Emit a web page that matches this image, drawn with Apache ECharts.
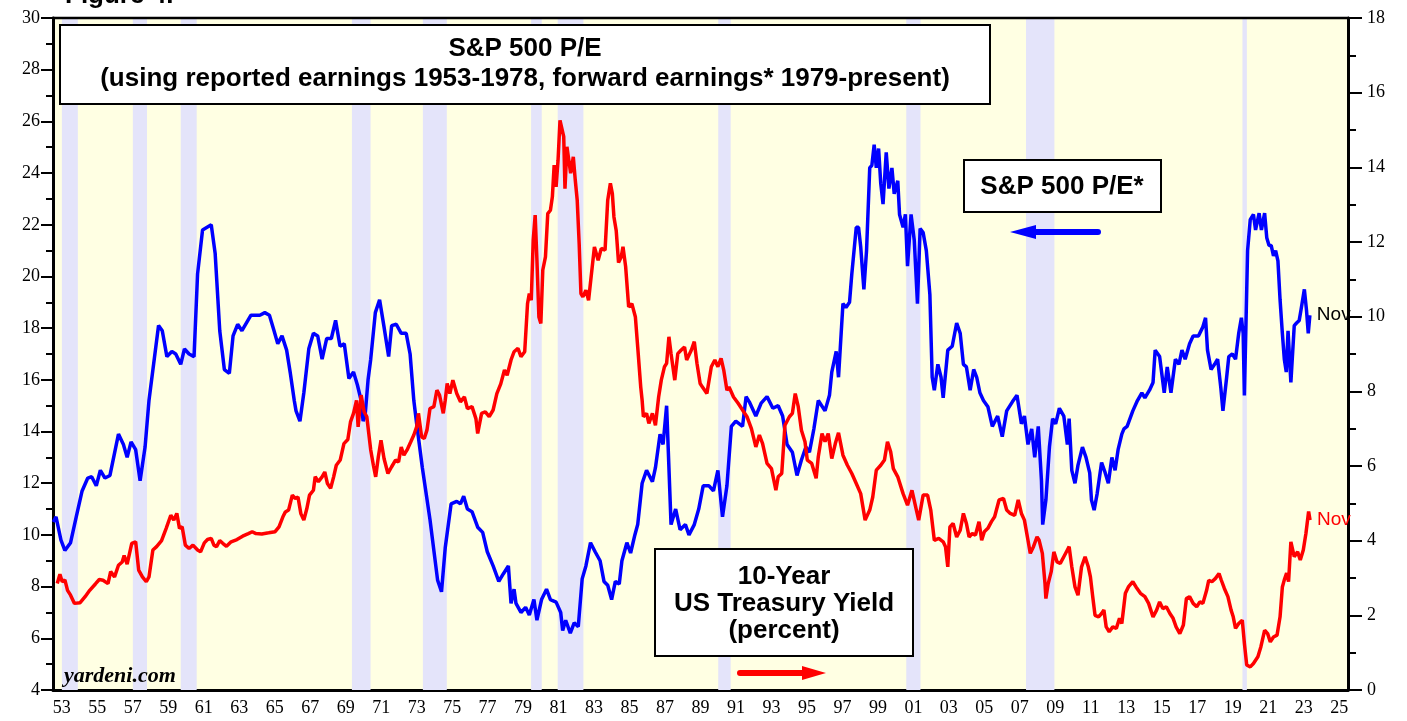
<!DOCTYPE html>
<html>
<head>
<meta charset="utf-8">
<script src="https://cdn.jsdelivr.net/npm/echarts/dist/echarts.min.js"></script>
<style>
  html, body { margin: 0; padding: 0; background: #fff; }
  #chart { width: 1407px; height: 721px; }
</style>
</head>
<body>
<div id="chart"></div>
<script>
// year ticks along the bottom (labels shown every other year)
const yearLabels = []
for (let y = 1953; y <= 2025; y++) yearLabels.push(String(y % 100).padStart(2, '0'))

// recession periods [start, end] in decimal years
const recessions = [
  [1953.5, 1954.4], [1957.5, 1958.3], [1960.2, 1961.1], [1969.85, 1970.9],
  [1973.85, 1975.2], [1979.95, 1980.55], [1981.45, 1982.9], [1990.5, 1991.2],
  [2001.1, 2001.9], [2007.85, 2009.45], [2020.05, 2020.3],
]

// S&P 500 P/E (left axis) [year, value]
const peSeries = [
  [1953.02,10.5],[1953.17,10.7],[1953.45,9.8],[1953.67,9.4],[1953.99,9.7],[1954.31,10.7],[1954.64,11.7],[1954.96,12.2],
  [1955.18,12.25],[1955.44,11.9],[1955.67,12.5],[1955.93,12.2],[1956.21,12.3],[1956.69,13.9],[1956.97,13.5],[1957.18,13.0],
  [1957.40,13.6],[1957.66,13.3],[1957.91,12.1],[1958.19,13.4],[1958.41,15.2],[1958.95,18.1],[1959.16,17.9],[1959.42,16.9],
  [1959.70,17.1],[1959.92,17.0],[1960.20,16.6],[1960.41,17.2],[1960.67,17.0],[1960.95,16.9],[1961.15,20.1],[1961.43,21.8],
  [1961.92,22.0],[1962.14,20.9],[1962.40,17.9],[1962.66,16.4],[1962.94,16.25],[1963.15,17.7],[1963.41,18.15],[1963.65,17.9],
  [1964.16,18.5],[1964.66,18.5],[1964.94,18.6],[1965.20,18.5],[1965.46,17.9],[1965.67,17.4],[1965.91,17.7],[1966.17,17.15],
  [1966.38,16.25],[1966.60,15.2],[1966.70,14.8],[1966.92,14.4],[1967.14,15.5],[1967.42,17.2],[1967.68,17.8],[1967.92,17.7],
  [1968.17,16.8],[1968.43,17.6],[1968.69,17.6],[1968.93,18.3],[1969.18,17.3],[1969.42,17.4],[1969.68,16.05],[1969.94,16.3],
  [1970.16,15.8],[1970.37,15.2],[1970.48,14.4],[1970.59,14.6],[1970.76,16.0],[1970.91,16.8],[1971.17,18.6],[1971.41,19.1],
  [1971.66,18.05],[1971.92,16.9],[1972.09,18.1],[1972.35,18.15],[1972.63,17.8],[1972.91,17.8],[1973.13,17.0],[1973.34,15.2],
  [1973.50,14.3],[1973.82,12.6],[1974.25,10.6],[1974.68,8.25],[1974.90,7.8],[1975.11,9.5],[1975.44,11.2],[1975.76,11.3],
  [1975.97,11.2],[1976.15,11.5],[1976.36,11.0],[1976.62,10.9],[1976.94,10.3],[1977.22,10.1],[1977.48,9.35],[1977.81,8.8],
  [1978.13,8.2],[1978.39,8.5],[1978.67,8.8],[1978.82,7.35],[1978.99,7.9],[1979.10,7.35],[1979.38,7.0],[1979.64,7.2],
  [1979.85,6.9],[1980.11,7.5],[1980.28,6.7],[1980.54,7.5],[1980.82,7.9],[1981.04,7.5],[1981.36,7.4],[1981.62,7.0],
  [1981.73,6.3],[1981.90,6.7],[1982.16,6.2],[1982.38,6.6],[1982.61,6.45],[1982.83,8.3],[1983.04,8.8],[1983.30,9.7],
  [1983.56,9.35],[1983.84,9.0],[1984.06,8.2],[1984.27,8.05],[1984.49,7.5],[1984.70,8.2],[1984.92,8.1],[1985.07,9.0],
  [1985.35,9.7],[1985.56,9.3],[1985.80,10.0],[1985.96,10.4],[1986.21,12.0],[1986.46,12.5],[1986.79,12.06],[1986.96,12.6],
  [1987.22,13.9],[1987.39,13.5],[1987.59,15.0],[1987.84,10.4],[1988.10,11.0],[1988.35,10.2],[1988.65,10.4],[1988.85,10.0],
  [1989.15,10.4],[1989.40,11.0],[1989.65,11.9],[1989.98,11.9],[1990.23,11.7],[1990.48,12.5],[1990.74,10.7],[1990.99,11.9],
  [1991.24,14.2],[1991.49,14.4],[1991.87,14.2],[1992.07,15.35],[1992.25,15.15],[1992.62,14.6],[1992.92,15.1],[1993.25,15.35],
  [1993.58,14.9],[1993.88,15.0],[1994.13,14.6],[1994.38,13.5],[1994.68,13.2],[1994.94,12.3],[1995.19,12.9],[1995.44,13.4],
  [1995.64,13.2],[1995.89,14.1],[1996.14,15.2],[1996.52,14.8],[1996.77,15.4],[1996.90,16.3],[1997.15,17.1],[1997.28,16.1],
  [1997.53,18.95],[1997.70,18.8],[1997.90,19.0],[1998.03,20.1],[1998.28,21.9],[1998.41,21.9],[1998.53,21.15],[1998.71,19.5],
  [1998.86,21.0],[1999.04,24.2],[1999.16,24.3],[1999.29,25.1],[1999.41,24.2],[1999.54,24.95],[1999.66,23.6],[1999.79,22.8],
  [1999.97,24.8],[2000.12,23.4],[2000.29,24.2],[2000.42,23.2],[2000.62,23.7],[2000.72,22.4],[2000.92,21.9],[2001.05,22.4],
  [2001.17,20.4],[2001.37,22.4],[2001.55,21.4],[2001.73,18.95],[2001.88,21.85],[2002.05,21.7],[2002.23,21.0],[2002.43,19.3],
  [2002.56,16.1],[2002.68,15.6],[2002.88,16.6],[2003.06,16.1],[2003.18,15.3],[2003.44,17.15],[2003.69,17.3],[2003.94,18.2],
  [2004.14,17.8],[2004.32,16.6],[2004.49,16.5],[2004.70,15.6],[2004.90,16.4],[2005.07,16.1],[2005.25,15.5],[2005.45,15.2],
  [2005.70,14.96],[2005.95,14.2],[2006.25,14.6],[2006.51,13.8],[2006.76,14.8],[2007.08,15.15],[2007.34,15.4],[2007.59,14.3],
  [2007.76,14.6],[2007.96,13.5],[2008.17,14.1],[2008.34,13.0],[2008.54,14.2],[2008.72,12.1],[2008.79,10.4],[2008.97,11.35],
  [2009.17,13.4],[2009.35,14.5],[2009.52,14.3],[2009.73,14.9],[2009.98,14.6],[2010.18,13.5],[2010.28,14.5],[2010.43,12.5],
  [2010.61,12.0],[2010.78,12.7],[2011.03,13.4],[2011.23,13.0],[2011.44,12.4],[2011.54,11.35],[2011.69,10.96],[2011.86,11.6],
  [2012.11,12.8],[2012.29,12.45],[2012.49,12.0],[2012.69,13.0],[2012.87,12.5],[2013.04,13.3],[2013.25,13.9],[2013.37,14.1],
  [2013.55,14.2],[2013.87,14.8],[2014.13,15.2],[2014.38,15.5],[2014.55,15.3],[2014.81,15.6],[2015.01,15.9],[2015.13,17.15],
  [2015.38,16.9],[2015.64,15.5],[2015.81,16.5],[2016.02,15.5],[2016.27,16.8],[2016.47,16.6],[2016.64,17.15],[2016.82,16.8],
  [2017.07,17.4],[2017.27,17.7],[2017.57,17.7],[2017.82,18.05],[2017.97,18.4],[2018.08,17.15],[2018.28,16.4],[2018.48,16.6],
  [2018.65,16.8],[2018.83,15.7],[2018.95,14.8],[2019.16,16.1],[2019.28,16.9],[2019.48,17.0],[2019.66,16.8],[2019.84,17.8],
  [2019.99,18.4],[2020.09,17.8],[2020.16,15.4],[2020.34,21.0],[2020.49,22.2],[2020.67,22.4],[2020.79,21.8],[2020.99,22.45],
  [2021.12,21.8],[2021.30,22.45],[2021.42,21.5],[2021.55,21.2],[2021.67,21.2],[2021.80,20.8],[2021.92,21.0],[2022.05,20.6],
  [2022.17,19.1],[2022.30,17.8],[2022.41,16.8],[2022.52,16.3],[2022.62,17.9],[2022.78,15.9],[2022.97,18.1],[2023.10,18.2],
  [2023.25,18.3],[2023.35,18.7],[2023.54,19.5],[2023.66,18.7],[2023.76,17.8],[2023.85,18.5],
]

// 10-year US Treasury yield, percent (right axis) [year, value]
const yieldSeries = [
  [1953.24,2.85],[1953.39,3.1],[1953.52,2.9],[1953.67,2.95],[1953.82,2.67],[1953.99,2.54],[1954.21,2.32],[1954.53,2.34],
  [1954.81,2.5],[1955.07,2.67],[1955.39,2.84],[1955.61,2.96],[1955.82,2.94],[1956.10,2.85],[1956.25,3.17],[1956.47,3.03],
  [1956.69,3.34],[1956.90,3.43],[1957.01,3.6],[1957.18,3.37],[1957.44,3.93],[1957.66,3.97],[1957.83,3.21],[1958.04,3.03],
  [1958.26,2.9],[1958.41,3.03],[1958.63,3.75],[1958.84,3.84],[1959.12,4.0],[1959.38,4.33],[1959.64,4.68],[1959.81,4.55],
  [1959.98,4.73],[1960.13,4.33],[1960.28,4.37],[1960.46,3.88],[1960.67,3.79],[1960.89,3.88],[1961.15,3.75],[1961.32,3.7],
  [1961.53,3.94],[1961.71,4.03],[1961.92,4.06],[1962.07,3.88],[1962.22,3.84],[1962.40,4.0],[1962.57,3.93],[1962.78,3.85],
  [1963.04,3.97],[1963.37,4.03],[1963.69,4.12],[1964.01,4.19],[1964.23,4.24],[1964.44,4.19],[1964.77,4.18],[1965.16,4.21],
  [1965.52,4.24],[1965.74,4.37],[1965.96,4.64],[1966.10,4.77],[1966.28,4.82],[1966.49,5.22],[1966.66,5.13],[1966.81,5.17],
  [1966.97,4.73],[1967.14,4.55],[1967.31,4.86],[1967.46,5.22],[1967.68,5.35],[1967.78,5.71],[1967.96,5.58],[1968.17,5.71],
  [1968.32,5.84],[1968.47,5.53],[1968.65,5.4],[1968.82,5.71],[1968.97,6.02],[1969.19,6.16],[1969.40,6.6],[1969.62,6.71],
  [1969.77,7.18],[1969.94,7.41],[1970.11,7.76],[1970.20,7.05],[1970.37,7.9],[1970.54,7.45],[1970.69,7.32],[1970.91,6.43],
  [1971.06,6.02],[1971.19,5.71],[1971.34,6.25],[1971.49,6.69],[1971.66,6.2],[1971.88,5.8],[1972.09,5.98],[1972.31,6.16],
  [1972.48,6.11],[1972.63,6.51],[1972.78,6.29],[1972.96,6.43],[1973.17,6.65],[1973.34,6.83],[1973.50,7.05],[1973.60,7.41],
  [1973.78,6.78],[1973.93,6.74],[1974.08,6.96],[1974.25,7.54],[1974.47,7.59],[1974.64,8.03],[1974.79,7.9],[1975.00,7.41],
  [1975.11,7.76],[1975.22,8.21],[1975.37,7.94],[1975.54,8.3],[1975.76,7.94],[1975.97,7.72],[1976.19,7.85],[1976.36,7.54],
  [1976.62,7.59],[1976.84,7.27],[1976.94,6.87],[1977.16,7.41],[1977.37,7.45],[1977.59,7.32],[1977.81,7.5],[1978.02,7.94],
  [1978.24,8.2],[1978.45,8.57],[1978.60,8.43],[1978.82,8.84],[1978.99,9.06],[1979.21,9.15],[1979.38,8.93],[1979.59,9.06],
  [1979.75,10.35],[1979.85,10.62],[1979.96,10.44],[1980.07,12.05],[1980.18,12.72],[1980.28,11.51],[1980.39,9.99],[1980.50,9.82],
  [1980.61,11.25],[1980.76,11.6],[1980.89,12.76],[1981.04,12.85],[1981.15,13.21],[1981.25,14.06],[1981.36,13.48],[1981.47,14.19],
  [1981.58,15.26],[1981.68,15.31],[1981.79,14.82],[1981.86,13.43],[1981.97,14.55],[1982.05,14.59],[1982.18,13.84],[1982.33,14.28],
  [1982.44,13.66],[1982.55,13.12],[1982.66,11.96],[1982.76,10.62],[1982.87,10.53],[1983.04,10.71],[1983.19,10.44],[1983.30,10.4],
  [1983.52,11.87],[1983.73,11.51],[1983.91,11.83],[1984.12,11.78],[1984.27,13.12],[1984.42,13.57],[1984.53,13.3],[1984.62,12.67],
  [1984.75,12.3],[1984.88,11.45],[1985.03,11.6],[1985.13,11.87],[1985.28,11.34],[1985.45,10.26],[1985.63,10.35],[1985.83,9.99],
  [1985.96,9.19],[1986.13,8.12],[1986.21,7.76],[1986.28,7.32],[1986.46,7.41],[1986.59,7.14],[1986.79,7.41],[1986.96,7.09],
  [1987.14,7.85],[1987.29,8.3],[1987.47,8.66],[1987.59,8.75],[1987.72,9.46],[1987.84,9.01],[1988.05,8.3],[1988.22,9.01],
  [1988.40,9.1],[1988.60,9.19],[1988.72,8.84],[1988.98,9.1],[1989.15,9.33],[1989.30,8.75],[1989.48,8.21],[1989.60,8.12],
  [1989.86,7.94],[1990.11,8.66],[1990.31,8.84],[1990.48,8.66],[1990.66,8.88],[1990.81,8.57],[1990.99,8.03],[1991.11,8.12],
  [1991.36,7.85],[1991.62,7.68],[1991.87,7.5],[1992.12,7.32],[1992.37,7.0],[1992.62,6.51],[1992.82,6.83],[1993.00,6.6],
  [1993.25,6.07],[1993.50,5.93],[1993.75,5.35],[1993.88,5.71],[1994.08,5.8],[1994.26,7.09],[1994.51,7.32],[1994.68,7.41],
  [1994.84,7.94],[1995.01,7.59],[1995.19,6.96],[1995.39,6.65],[1995.52,6.16],[1995.77,6.07],[1996.02,5.67],[1996.14,6.25],
  [1996.35,6.87],[1996.52,6.65],[1996.70,6.87],[1996.90,6.2],[1997.10,6.6],[1997.28,6.89],[1997.53,6.29],[1997.78,6.02],
  [1998.03,5.8],[1998.28,5.53],[1998.53,5.26],[1998.78,4.55],[1999.04,4.82],[1999.21,5.17],[1999.41,5.89],[1999.66,6.02],
  [1999.87,6.16],[2000.04,6.65],[2000.22,6.38],[2000.37,5.93],[2000.62,5.71],[2000.92,5.26],[2001.17,4.95],[2001.42,5.35],
  [2001.67,4.82],[2001.80,4.55],[2002.05,5.22],[2002.30,5.22],[2002.48,4.82],[2002.68,4.01],[2002.93,4.06],[2003.18,3.97],
  [2003.31,3.84],[2003.44,3.3],[2003.56,4.37],[2003.74,4.46],[2003.94,4.1],[2004.14,4.28],[2004.32,4.73],[2004.49,4.46],
  [2004.64,4.1],[2004.82,4.19],[2005.00,4.15],[2005.20,4.51],[2005.35,4.01],[2005.50,4.24],[2005.70,4.33],[2005.90,4.51],
  [2006.08,4.64],[2006.33,5.09],[2006.58,5.13],[2006.76,4.82],[2006.96,4.73],[2007.21,4.68],[2007.41,5.09],[2007.59,4.73],
  [2007.76,4.55],[2007.96,4.01],[2008.09,3.66],[2008.27,3.84],[2008.47,4.1],[2008.59,4.01],[2008.77,3.66],[2008.92,2.85],
  [2008.97,2.45],[2009.10,2.85],[2009.27,3.17],[2009.42,3.7],[2009.60,3.43],[2009.78,3.39],[2009.98,3.57],[2010.18,3.75],
  [2010.28,3.84],[2010.43,3.3],[2010.61,2.76],[2010.78,2.54],[2010.98,3.3],[2011.18,3.57],[2011.36,3.3],[2011.48,3.03],
  [2011.61,2.5],[2011.74,2.0],[2011.94,1.96],[2012.11,2.05],[2012.24,2.14],[2012.37,1.69],[2012.54,1.56],[2012.74,1.69],
  [2012.94,1.65],[2013.12,1.92],[2013.25,1.78],[2013.45,2.59],[2013.62,2.76],[2013.87,2.9],[2014.05,2.76],[2014.30,2.59],
  [2014.55,2.5],[2014.76,2.32],[2015.01,1.96],[2015.21,2.14],[2015.38,2.36],[2015.56,2.18],[2015.76,2.23],[2015.96,2.05],
  [2016.14,1.92],[2016.31,1.69],[2016.52,1.51],[2016.72,1.74],[2016.89,2.45],[2017.07,2.5],[2017.27,2.32],[2017.47,2.23],
  [2017.65,2.36],[2017.82,2.32],[2018.03,2.67],[2018.15,2.94],[2018.33,2.9],[2018.53,2.99],[2018.73,3.12],[2018.86,2.94],
  [2019.03,2.72],[2019.23,2.5],[2019.41,2.14],[2019.53,1.96],[2019.66,1.65],[2019.84,1.78],[2020.04,1.87],[2020.16,1.25],
  [2020.29,0.67],[2020.49,0.62],[2020.67,0.71],[2020.92,0.89],[2021.09,1.16],[2021.30,1.6],[2021.47,1.51],[2021.62,1.29],
  [2021.80,1.42],[2022.00,1.47],[2022.17,1.96],[2022.30,2.76],[2022.41,2.95],[2022.54,3.13],[2022.65,2.9],[2022.78,3.97],
  [2022.97,3.57],[2023.16,3.7],[2023.31,3.48],[2023.48,3.75],[2023.63,4.2],[2023.78,4.78],[2023.86,4.55],
]

const chart = echarts.init(document.getElementById('chart'))

const serifFont = '"Liberation Serif", "Times New Roman", serif'
const sansFont = '"Liberation Sans", Arial, sans-serif'
const boxFont = 'bold 26px ' + sansFont

const axisText = { color: '#000', fontFamily: serifFont, fontSize: 18 }

const option = {
  animation: false,
  grid: {
    left: 53, right: 59, top: 18, bottom: 31,
    show: true,
    backgroundColor: '#FFFFE3',
    borderColor: '#000',
    borderWidth: 2,
  },
  xAxis: [
    {
      type: 'category',
      data: yearLabels,
      boundaryGap: true,
      axisLine: { lineStyle: { color: '#000', width: 3 } },
      axisTick: { interval: 0, length: 8, lineStyle: { color: '#000', width: 2 } },
      axisLabel: { ...axisText, interval: 1, margin: 9 },
      splitLine: { show: false },
    },
    {
      type: 'value',
      min: 1953,
      max: 2026,
      show: false,
    },
  ],
  yAxis: [
    {
      type: 'value',
      position: 'left',
      min: 4, max: 30, interval: 2,
      axisLine: { show: true, lineStyle: { color: '#000', width: 3 } },
      axisTick: { show: true, length: 12, lineStyle: { color: '#000', width: 2 } },
      minorTick: { show: true, splitNumber: 2, length: 7, lineStyle: { color: '#000', width: 2 } },
      axisLabel: { ...axisText, margin: 13 },
      splitLine: { show: false },
    },
    {
      type: 'value',
      position: 'right',
      min: 0, max: 18, interval: 2,
      axisLine: { show: true, lineStyle: { color: '#000', width: 3 } },
      axisTick: { show: true, length: 14, lineStyle: { color: '#000', width: 2 } },
      minorTick: { show: true, splitNumber: 2, length: 8, lineStyle: { color: '#000', width: 2 } },
      axisLabel: { ...axisText, margin: 19 },
      splitLine: { show: false },
    },
  ],
  series: [
    {
      // recession shading
      type: 'line',
      xAxisIndex: 1,
      yAxisIndex: 0,
      data: [],
      z: 1,
      markArea: {
        silent: true,
        itemStyle: { color: '#E4E4FA' },
        data: recessions.map(([a, b]) => [{ xAxis: a }, { xAxis: b }]),
      },
    },
    {
      name: 'S&P 500 P/E',
      type: 'line',
      xAxisIndex: 1,
      yAxisIndex: 0,
      data: peSeries,
      showSymbol: false,
      z: 3,
      lineStyle: { color: '#0000FF', width: 3.5 },
      endLabel: { show: true, formatter: 'Nov', color: '#000', fontFamily: sansFont, fontSize: 19, distance: 7 },
    },
    {
      name: '10-Year US Treasury Yield',
      type: 'line',
      xAxisIndex: 1,
      yAxisIndex: 1,
      data: yieldSeries,
      showSymbol: false,
      z: 4,
      lineStyle: { color: '#FF0000', width: 3.5 },
      endLabel: { show: true, formatter: 'Nov', color: '#FF0000', fontFamily: sansFont, fontSize: 19, distance: 7 },
    },
  ],
  graphic: [
    {
      type: 'text', left: 65, top: -17, z: 10,
      style: { text: 'Figure 4.', font: 'bold 26px ' + sansFont, fill: '#000' },
    },
    // top frame line over the shading
    {
      type: 'line', shape: { x1: 52, y1: 18, x2: 1349, y2: 18 }, z: 20,
      style: { stroke: '#000', lineWidth: 2.5 },
    },
    // title box
    {
      type: 'rect', shape: { x: 60, y: 25, width: 930, height: 79 }, z: 10,
      style: { fill: '#fff', stroke: '#000', lineWidth: 2 },
    },
    {
      type: 'text', x: 525, y: 49, z: 11,
      style: { text: 'S&P 500 P/E', font: boxFont, fill: '#000', align: 'center', verticalAlign: 'middle' },
    },
    {
      type: 'text', x: 525, y: 79, z: 11,
      style: { text: '(using reported earnings 1953-1978, forward earnings* 1979-present)', font: boxFont, fill: '#000', align: 'center', verticalAlign: 'middle' },
    },
    // P/E label box and arrow
    {
      type: 'rect', shape: { x: 964, y: 160, width: 197, height: 52 }, z: 10,
      style: { fill: '#fff', stroke: '#000', lineWidth: 2 },
    },
    {
      type: 'text', x: 1062, y: 187, z: 11,
      style: { text: 'S&P 500 P/E*', font: boxFont, fill: '#000', align: 'center', verticalAlign: 'middle' },
    },
    {
      type: 'line', shape: { x1: 1098, y1: 232, x2: 1030, y2: 232 }, z: 10,
      style: { stroke: '#0000FF', lineWidth: 6, lineCap: 'round' },
    },
    {
      type: 'polygon', shape: { points: [[1010, 232], [1036, 225], [1036, 239]] }, z: 10,
      style: { fill: '#0000FF' },
    },
    // yield label box and arrow
    {
      type: 'rect', shape: { x: 655, y: 549, width: 258, height: 107 }, z: 10,
      style: { fill: '#fff', stroke: '#000', lineWidth: 2 },
    },
    {
      type: 'text', x: 784, y: 577, z: 11,
      style: { text: '10-Year', font: boxFont, fill: '#000', align: 'center', verticalAlign: 'middle' },
    },
    {
      type: 'text', x: 784, y: 604, z: 11,
      style: { text: 'US Treasury Yield', font: boxFont, fill: '#000', align: 'center', verticalAlign: 'middle' },
    },
    {
      type: 'text', x: 784, y: 631, z: 11,
      style: { text: '(percent)', font: boxFont, fill: '#000', align: 'center', verticalAlign: 'middle' },
    },
    {
      type: 'line', shape: { x1: 740, y1: 673, x2: 806, y2: 673 }, z: 10,
      style: { stroke: '#FF0000', lineWidth: 6, lineCap: 'round' },
    },
    {
      type: 'polygon', shape: { points: [[826, 673], [802, 666], [802, 680]] }, z: 10,
      style: { fill: '#FF0000' },
    },
    {
      type: 'text', x: 64, y: 676, z: 10,
      style: { text: 'yardeni.com', font: 'italic bold 22px ' + serifFont, fill: '#000', verticalAlign: 'middle' },
    },
  ],
}

chart.setOption(option)
</script>
</body>
</html>
